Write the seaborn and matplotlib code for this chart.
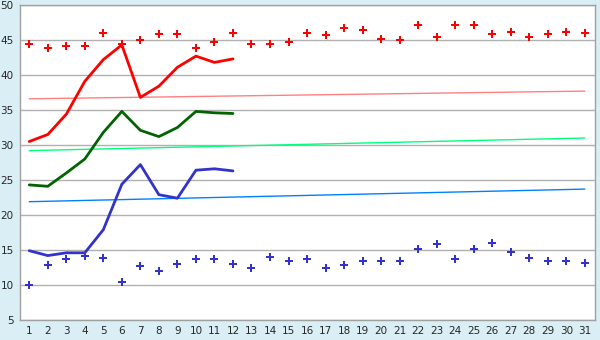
import matplotlib
matplotlib.use("Agg")
import matplotlib.pyplot as plt
import seaborn as sns
import pandas as pd

days = list(range(1, 32))
max_vals = [44.4, 43.8, 44.1, 44.1, 46.0, 44.4, 45.0, 45.8, 45.8, 43.8,
            44.7, 46.0, 44.4, 44.4, 44.7, 46.0, 45.7, 46.7, 46.5, 45.2,
            45.0, 47.2, 45.4, 47.1, 47.2, 45.8, 46.2, 45.5, 45.8, 46.1, 46.0]
min_vals = [10.0, 12.8, 13.7, 14.1, 13.8, 10.5, 12.7, 12.0, 13.0, 13.7,
            13.7, 13.0, 12.4, 14.0, 13.5, 13.7, 12.4, 12.8, 13.5, 13.5,
            13.5, 15.2, 15.8, 13.7, 15.1, 16.0, 14.7, 13.8, 13.5, 13.5, 13.2]
line_days = list(range(1, 13))
high_line = [30.5, 31.5, 34.4, 39.1, 42.2, 44.3, 36.8, 38.4, 41.1, 42.7, 41.8, 42.3]
mid_line = [24.3, 24.1, 26.0, 28.0, 31.8, 34.8, 32.1, 31.2, 32.5, 34.8, 34.6, 34.5]
low_line = [14.9, 14.2, 14.6, 14.6, 17.9, 24.4, 27.2, 22.9, 22.4, 26.4, 26.6, 26.3]
trend_days = [1, 31]
high_trend = [36.6, 37.7]
mid_trend = [29.2, 31.0]
low_trend = [21.9, 23.7]
y_ticks = [5, 10, 15, 20, 25, 30, 35, 40, 45, 50]

bg = "#D9EFF5"
sns.set_style("white")
plt.rcParams['font.family'] = ['DejaVu Sans']

fig = plt.figure(figsize=(6, 3.4), dpi=100, facecolor=bg)
ax = fig.add_axes([20/600, 20/340, 575/600, 315/340])
ax.set_facecolor("white")

for y in y_ticks:
    ax.axhline(y, color="#B0B0B0", lw=1, zorder=0)

sns.lineplot(x=trend_days, y=high_trend, ax=ax, color="#FF8080", lw=1.0)
sns.lineplot(x=trend_days, y=mid_trend, ax=ax, color="#00FF80", lw=1.0)
sns.lineplot(x=trend_days, y=low_trend, ax=ax, color="#0080FF", lw=1.0)

sns.lineplot(x=line_days, y=high_line, ax=ax, color="#FF0000", lw=2)
sns.lineplot(x=line_days, y=mid_line, ax=ax, color="#006400", lw=2)
sns.lineplot(x=line_days, y=low_line, ax=ax, color="#3333CC", lw=2)

sns.scatterplot(x=days, y=max_vals, ax=ax, color="#FF0000", marker="P", s=28, linewidth=0)
sns.scatterplot(x=days, y=min_vals, ax=ax, color="#3333CC", marker="P", s=28, linewidth=0)

ax.set_xlim(0.5, 31.55)
ax.set_ylim(5, 50)
ax.set_xticks(days)
ax.set_xticklabels([str(d) for d in days])
ax.set_yticks(y_ticks)
ax.tick_params(axis="both", labelsize=7.5, length=3, color="#A0A0A0", width=1, pad=1.5, direction="out")
for s in ax.spines.values():
    s.set_color("#A0A0A0")
    s.set_linewidth(1)
ax.set_xlabel("")
ax.set_ylabel("")

fig.savefig("out.png", dpi=100, facecolor=bg)
